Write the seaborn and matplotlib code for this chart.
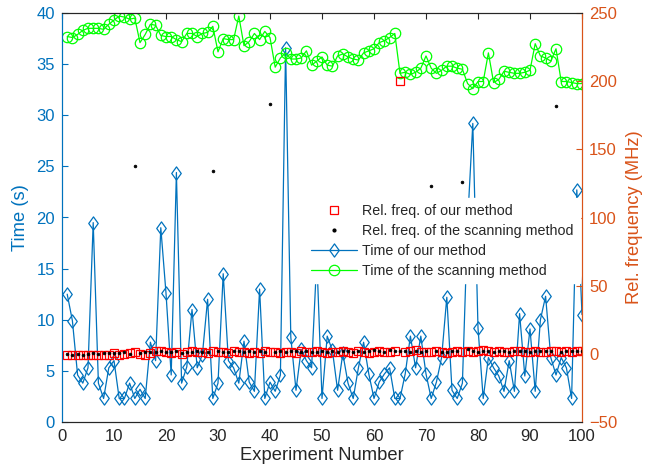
import matplotlib
matplotlib.use("Agg")
import matplotlib.pyplot as plt
import seaborn as sns
import pandas as pd
from matplotlib.lines import Line2D
from matplotlib.path import Path

experiment = list(range(1, 101))

time_ours = [12.5, 9.9, 4.6, 3.8, 5.3, 19.5, 3.8, 2.3, 5.3, 6.0,
             2.3, 2.3, 3.8, 2.3, 3.2, 2.3, 7.8, 6.0, 19.0, 12.6,
             4.6, 24.4, 3.8, 5.4, 11.0, 5.3, 6.6, 12.0, 2.3, 3.8,
             14.5, 6.0, 5.3, 3.8, 7.9, 3.9, 3.0, 13.0, 2.3, 3.9,
             3.0, 4.6, 36.6, 8.3, 3.1, 7.1, 6.0, 5.3, 16.0, 2.3,
             8.4, 7.0, 3.1, 6.7, 3.8, 2.3, 5.3, 7.8, 4.7, 2.3,
             3.9, 4.7, 5.3, 2.3, 2.3, 4.7, 8.4, 5.3, 8.4, 4.7,
             2.3, 3.9, 6.3, 12.2, 3.1, 2.3, 3.8, 19.5, 29.2, 9.2,
             2.3, 6.3, 5.3, 4.5, 3.0, 6.0, 3.0, 10.6, 4.5, 9.1,
             3.0, 10.0, 12.3, 6.3, 4.6, 6.3, 5.3, 2.3, 22.7, 10.5]

time_scan = [37.7, 37.6, 37.9, 38.3, 38.5, 38.5, 38.5, 38.4, 38.9, 39.3,
             39.7, 39.6, 39.4, 39.5, 37.1, 37.9, 38.9, 38.8, 37.8, 37.7,
             37.7, 37.4, 37.2, 38.0, 38.0, 37.7, 38.0, 38.1, 38.7, 36.2,
             37.5, 37.4, 37.4, 39.7, 36.8, 37.2, 38.0, 37.4, 38.2, 37.6,
             34.7, 35.6, 36.1, 35.5, 35.5, 35.6, 36.3, 34.9, 35.3, 35.7,
             34.9, 34.8, 35.8, 36.0, 35.7, 35.5, 35.4, 36.1, 36.3, 36.5,
             37.1, 37.3, 37.6, 38.0, 34.1, 34.2, 34.0, 34.2, 34.6, 35.8,
             34.6, 34.1, 34.4, 34.8, 34.8, 34.6, 34.5, 33.1, 32.6, 33.3,
             33.3, 36.1, 33.2, 33.5, 34.3, 34.2, 34.1, 34.1, 34.2, 34.4,
             37.0, 35.8, 35.6, 35.3, 36.5, 33.3, 33.3, 33.2, 33.1, 33.1]

freq_ours = [-1.2, -1.0, -0.8, -1.0, -1.2, -0.6, -0.8, -0.5, -1.0, 0.5,
             -0.5, -0.2, 0.8, 1.5, 0.2, -0.6, 0.6, 1.8, 2.2, 1.6,
             0.4, 1.0, 0.0, 1.4, 2.4, 1.0, 1.2, 0.4, 1.8, 1.0,
             1.6, 0.6, 2.0, 1.2, 1.0, 0.8, 1.6, 0.6, 1.8, 1.0,
             1.4, 0.8, 1.6, 1.0, 0.6, 1.8, 1.2, 1.0, 2.0, 1.4,
             0.8, 1.6, 1.0, 2.0, 1.2, 0.8, 1.8, 1.4, 0.6, 1.6,
             2.2, 1.0, 1.4, 2.4, 200.0, 1.2, 1.8, 2.6, 1.6, 1.0,
             1.4, 2.0, 1.2, 0.8, 1.6, 1.8, 1.2, 2.0, 1.4, 2.2,
             2.6, 1.8, 1.2, 2.0, 1.6, 1.0, 1.8, 2.4, 1.4, 1.2,
             2.0, 1.6, 1.2, 2.2, 1.8, 1.0, 2.0, 1.6, 2.2, 1.8]

freq_scan = [-0.4, -0.6, -0.2, -0.8, -0.4, 0.4, 0.2, 0.6, 0.4, 0.8,
             0.6, 1.2, 0.0, 138.0, 0.8, 1.6, 1.0, 1.4, 1.8, 1.2,
             1.6, 2.2, 0.6, 1.4, 1.2, 1.8, 1.4, 1.0, 134.0, 2.0,
             1.6, 1.2, 2.2, 1.8, 1.4, 2.4, 1.0, 1.8, 1.4, 183.0,
             1.6, 2.0, 1.2, 1.8, 2.2, 1.4, 2.0, 1.6, 1.2, 2.0,
             1.6, 2.2, 1.4, 1.8, 2.0, 1.2, 2.4, 1.6, 1.8, 2.6,
             2.0, 1.4, 3.0, 1.8, 2.2, 2.4, 1.6, 2.0, 1.4, 1.8,
             123.0, 2.0, 1.6, 1.2, 2.2, 1.8, 126.0, 3.2, 2.0, 1.6,
             2.2, 1.8, 1.4, 2.0, 2.4, 1.6, 2.2, 1.8, 2.0, 1.6,
             2.4, 2.0, 1.8, 2.2, 182.0, 1.6, 2.4, 2.0, 1.8, 2.2]

x_ticks = list(range(0, 101, 10))
time_ticks = list(range(0, 41, 5))
freq_ticks = list(range(-50, 251, 50))

legend_labels = ["Rel. freq. of our method",
                 "Rel. freq. of the scanning method",
                 "Time of our method",
                 "Time of the scanning method"]

sns.set_style("white")
plt.rcParams['font.family'] = ['Liberation Sans', 'DejaVu Sans']

BLUE = '#0072BD'
ORANGE = '#D95319'
GREEN = '#00FF00'
RED = '#FF0000'
AXC = '#262626'

# MATLAB-like diamond (taller than wide)
DIAMOND = Path([(0, 1), (0.72, 0), (0, -1), (-0.72, 0), (0, 1)],
               [Path.MOVETO, Path.LINETO, Path.LINETO, Path.LINETO, Path.CLOSEPOLY])

df = pd.DataFrame({"exp": experiment, "t_ours": time_ours, "t_scan": time_scan,
                   "f_ours": freq_ours, "f_scan": freq_scan})

fig = plt.figure(figsize=(6.6, 4.74), dpi=100)
ax = fig.add_axes([62 / 660, 1 - 422 / 474, 520 / 660, 409 / 474])
ax2 = ax.twinx()

D_MS, C_MS, S_MS = 9.5, 7.5, 6.0
sns.lineplot(data=df, x="exp", y="t_ours", ax=ax, color=BLUE, lw=0.9,
             marker=DIAMOND, ms=D_MS, mfc='none', mec=BLUE, mew=0.9,
             errorbar=None, legend=False)
sns.lineplot(data=df, x="exp", y="t_scan", ax=ax, color=GREEN, lw=0.9,
             marker='o', ms=C_MS, mfc='none', mec=GREEN, mew=0.9,
             errorbar=None, legend=False)
sns.lineplot(data=df, x="exp", y="f_ours", ax=ax2, color=RED, linestyle='',
             marker='s', ms=S_MS, mfc='none', mec=RED, mew=0.9,
             errorbar=None, legend=False)
sns.lineplot(data=df, x="exp", y="f_scan", ax=ax2, color='black', linestyle='',
             marker='.', ms=4, mfc='black', mec='black', mew=0.5,
             errorbar=None, legend=False)

ax.set_xlim(0, 100)
ax.set_ylim(0, 40)
ax2.set_ylim(-50, 250)
ax.set_xticks(x_ticks)
ax.set_yticks(time_ticks)
ax2.set_yticks(freq_ticks)

tfs = 12
ax.tick_params(axis='x', colors=AXC, direction='in', top=True, length=4,
               width=0.8, labelsize=tfs, pad=5)
ax.tick_params(axis='y', colors=BLUE, direction='in', length=4, width=0.8,
               labelsize=tfs, pad=5)
ax2.tick_params(axis='y', colors=ORANGE, direction='in', length=4, width=0.8,
                labelsize=tfs, pad=5)
for a in (ax, ax2):
    a.spines['left'].set_color(BLUE)
    a.spines['right'].set_color(ORANGE)
    a.spines['top'].set_color(AXC)
    a.spines['bottom'].set_color(AXC)
    for s in a.spines.values():
        s.set_linewidth(0.8)
        s.set_visible(True)
    a.grid(False)

ax.set_xlabel("Experiment Number", color=AXC, fontsize=13.2, labelpad=2)
ax.set_ylabel("Time (s)", color=BLUE, fontsize=13.2, labelpad=5)
ax2.set_ylabel("Rel. frequency (MHz)", color=ORANGE, fontsize=13.2, labelpad=6)

handles = [
    Line2D([], [], linestyle='', marker='s', ms=S_MS, mfc='none', mec=RED, mew=0.9),
    Line2D([], [], linestyle='', marker='.', ms=4, color='black'),
    Line2D([], [], color=BLUE, lw=0.9, marker=DIAMOND, ms=D_MS, mfc='none', mec=BLUE, mew=0.9),
    Line2D([], [], color=GREEN, lw=0.9, marker='o', ms=C_MS, mfc='none', mec=GREEN, mew=0.9),
]
leg = ax2.legend(handles, legend_labels, loc='upper left',
                 bbox_to_anchor=(305.3 / 660, 1 - 198.3 / 474),
                 bbox_transform=fig.transFigure, borderaxespad=0,
                 borderpad=0.4, handlelength=3.26, handletextpad=0.35,
                 labelspacing=0.41, fontsize=10.25, frameon=True,
                 fancybox=False, framealpha=1, edgecolor='white')
for t in leg.get_texts():
    t.set_color(AXC)

fig.savefig("out.png", dpi=100)
